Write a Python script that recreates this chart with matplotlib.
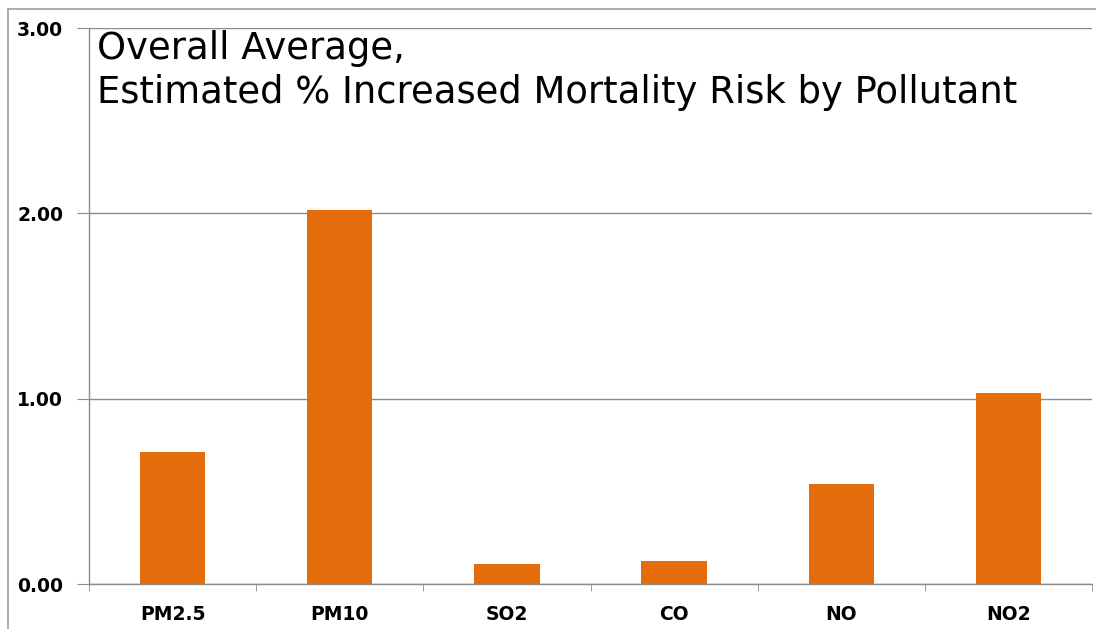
import matplotlib
matplotlib.use("Agg")
import matplotlib.pyplot as plt
from matplotlib.lines import Line2D
import numpy as np

pollutants = ["PM2.5", "PM10", "SO2", "CO", "NO", "NO2"]
risk = [0.71, 2.02, 0.11, 0.125, 0.54, 1.03]
yticks = [0.0, 1.0, 2.0, 3.0]

bar_color = "#E46C0A"
grid_color = "#8C8C8C"

fig = plt.figure(figsize=(10.96, 6.29), dpi=100)
ax = fig.add_axes([89 / 1096, 45 / 629, 1003 / 1096, 556 / 629])

x = np.arange(len(pollutants))
ax.bar(x, risk, width=0.39, color=bar_color, zorder=3)

ax.set_xlim(-0.5, len(pollutants) - 0.5)
ax.set_ylim(0, 3.0)
ax.set_yticks(yticks)
ax.set_yticklabels([f"{v:.2f}" for v in yticks], fontsize=13.5,
                   fontweight="bold", family="DejaVu Sans")
ax.yaxis.grid(True, color=grid_color, linewidth=1, zorder=0)
ax.tick_params(axis="y", length=9, color=grid_color, pad=9.5)

# category labels in the middle, tick marks on the boundaries
ax.set_xticks(x)
ax.set_xticklabels(pollutants, fontsize=13.5, fontweight="bold",
                   family="DejaVu Sans")
ax.tick_params(axis="x", length=0, pad=15)
ax.set_xticks(np.arange(len(pollutants) + 1) - 0.5, minor=True)
ax.tick_params(axis="x", which="minor", length=5, color=grid_color)

for side in ["top", "right"]:
    ax.spines[side].set_visible(False)
for side in ["left", "bottom"]:
    ax.spines[side].set_color(grid_color)
    ax.spines[side].set_linewidth(1)

ax.text(0.008, 0.997, "Overall Average,\nEstimated % Increased Mortality Risk by Pollutant",
        transform=ax.transAxes, ha="left", va="top", fontsize=26.6,
        family="DejaVu Sans", linespacing=1.25)

# outer chart frame
fx, fy = 8 / 1096, 1 - 9 / 629
fig.add_artist(Line2D([fx, fx], [0, fy], color="#A0A0A0", linewidth=1.2))
fig.add_artist(Line2D([fx, 1], [fy, fy], color="#A0A0A0", linewidth=1.2))

fig.savefig("out.png", dpi=100)
